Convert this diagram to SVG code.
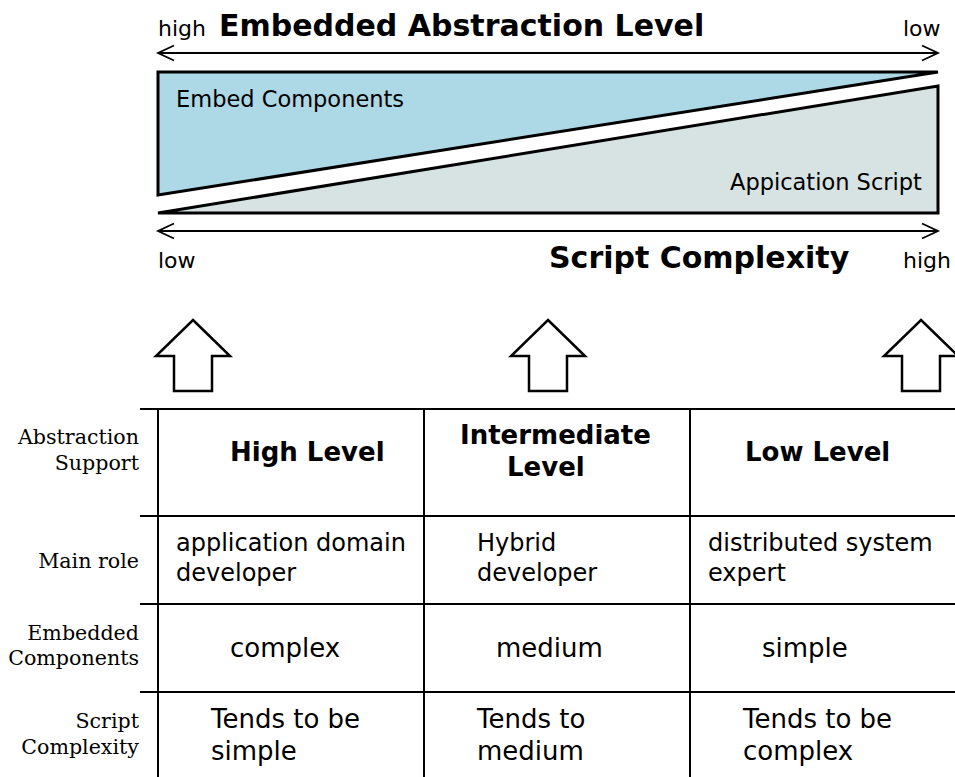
<svg xmlns="http://www.w3.org/2000/svg" width="955" height="777" viewBox="0 0 955 777">
  <style>
    .sans { font-family: "DejaVu Sans", "Liberation Sans", sans-serif; fill: #000; }
    .serif { font-family: "DejaVu Serif", "Liberation Serif", serif; fill: #000; font-size: 20.6px; text-anchor: end; }
    .bold { font-weight: bold; }
    .role { font-size: 24px; }
    .cell { font-size: 26px; }
    .shape { stroke: #000; stroke-width: 3; stroke-linejoin: miter; }
    .axis { stroke: #000; stroke-width: 1.8; fill: none; }
    .grid { stroke: #000; stroke-width: 2; fill: none; }
    .uparrow { fill: #fff; stroke: #000; stroke-width: 2.5; }
  </style>
  <defs>
    <path id="chevron-right" d="M -16 -7.5 L 0 0 L -16 7.5" class="axis"/>
    <path id="chevron-left" d="M 16 -7.5 L 0 0 L 16 7.5" class="axis"/>
    <polygon id="up-arrow" points="0,320 37,356 19,356 19,391 -19,391 -19,356 -37,356" class="uparrow"/>
  </defs>
  <rect width="955" height="777" fill="#fff"/>

  <!-- Abstraction vs. complexity wedge chart -->
  <g id="abstraction-axis">
    <text class="sans" x="158" y="36" font-size="22">high</text>
    <text class="sans bold" x="219" y="36" font-size="30">Embedded Abstraction Level</text>
    <text class="sans" x="903" y="36" font-size="22">low</text>
    <line class="axis" x1="158" y1="53" x2="938" y2="53"/>
    <use href="#chevron-left" x="158" y="53"/>
    <use href="#chevron-right" x="938" y="53"/>
  </g>

  <g id="embed-components">
    <polygon class="shape" fill="#add8e6" points="158,72 938,72 158,195"/>
    <text class="sans" x="176" y="107" font-size="22.5">Embed Components</text>
  </g>

  <g id="application-script">
    <polygon class="shape" fill="#d7e3e3" points="158,213 938,86 938,213"/>
    <text class="sans" x="730" y="190" font-size="22.5">Appication Script</text>
  </g>

  <g id="complexity-axis">
    <line class="axis" x1="158" y1="231" x2="938" y2="231"/>
    <use href="#chevron-left" x="158" y="231"/>
    <use href="#chevron-right" x="938" y="231"/>
    <text class="sans" x="158" y="268" font-size="22">low</text>
    <text class="sans bold" x="549" y="268" font-size="30">Script Complexity</text>
    <text class="sans" x="903" y="268" font-size="22">high</text>
  </g>

  <!-- Block arrows pointing up to the chart -->
  <g id="connectors">
    <use href="#up-arrow" x="193"/>
    <use href="#up-arrow" x="548"/>
    <use href="#up-arrow" x="921"/>
  </g>

  <!-- Comparison table -->
  <g id="table-grid">
    <line class="grid" x1="140" y1="409" x2="955" y2="409"/>
    <line class="grid" x1="140" y1="516" x2="955" y2="516"/>
    <line class="grid" x1="140" y1="604" x2="955" y2="604"/>
    <line class="grid" x1="140" y1="692" x2="955" y2="692"/>
    <line class="grid" x1="158" y1="409" x2="158" y2="777"/>
    <line class="grid" x1="424" y1="409" x2="424" y2="777"/>
    <line class="grid" x1="690" y1="409" x2="690" y2="777"/>
  </g>

  <g id="row-labels">
    <text class="serif" x="139" y="444">Abstraction</text>
    <text class="serif" x="139" y="470">Support</text>
    <text class="serif" x="139" y="568">Main role</text>
    <text class="serif" x="139" y="640">Embedded</text>
    <text class="serif" x="139" y="665">Components</text>
    <text class="serif" x="139" y="728">Script</text>
    <text class="serif" x="139" y="754">Complexity</text>
  </g>

  <g id="col-high-level">
    <text class="sans bold" x="230" y="461" font-size="26">High Level</text>
    <text class="sans role" x="176" y="551">application domain</text>
    <text class="sans role" x="176" y="581">developer</text>
    <text class="sans cell" x="230" y="657">complex</text>
    <text class="sans cell" x="211" y="728">Tends to be</text>
    <text class="sans cell" x="211" y="760">simple</text>
  </g>

  <g id="col-intermediate-level">
    <text class="sans bold" x="460" y="444" font-size="26">Intermediate</text>
    <text class="sans bold" x="507" y="476" font-size="26">Level</text>
    <text class="sans role" x="477" y="551">Hybrid</text>
    <text class="sans role" x="477" y="581">developer</text>
    <text class="sans cell" x="496" y="657">medium</text>
    <text class="sans cell" x="477" y="728">Tends to</text>
    <text class="sans cell" x="477" y="760">medium</text>
  </g>

  <g id="col-low-level">
    <text class="sans bold" x="745" y="461" font-size="26">Low Level</text>
    <text class="sans role" x="708" y="551">distributed system</text>
    <text class="sans role" x="708" y="581">expert</text>
    <text class="sans cell" x="762" y="657">simple</text>
    <text class="sans cell" x="743" y="728">Tends to be</text>
    <text class="sans cell" x="743" y="760">complex</text>
  </g>
</svg>
